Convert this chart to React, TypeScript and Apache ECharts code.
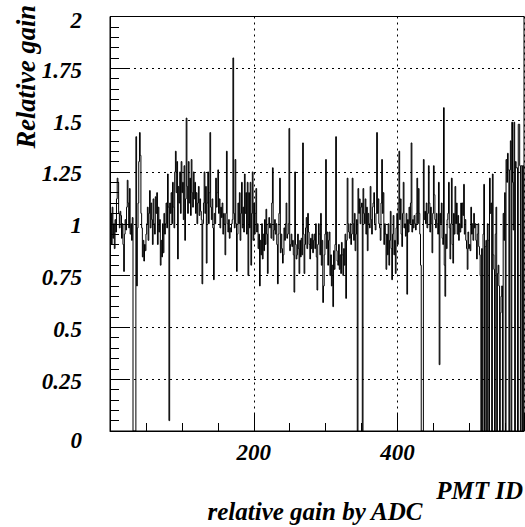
import React, { useEffect, useRef } from "react";
import * as echarts from "echarts";

// Relative gain per PMT ID (bins 0..575)
const gainA = [
  0.95, 1.05, 0.9, 1.08, 0.93, 1.0, 0.88, 1.02, 0.96, 1.12,
  1.22, 1.2, 1.05, 0.98, 1.06, 1.04, 0.93, 1.0, 0.9, 0.77,
  0.95, 1.02, 0.97, 1.08, 1.21, 1.1, 0.98, 1.17, 0.95, 1.0,
  0.92, 1.03, 0, 0, 0, 0, 1.42, 0.7, 0.98, 1.1,
  1.3, 1.44, 1.33, 1.05, 0.98, 0.84, 0.92, 0.82, 0.9, 0.87,
  0.95, 1.0, 1.08, 0.92, 1.05, 1.16, 0.98, 1.1, 1.02, 0.9,
  1.12, 1.0, 0.95, 1.13, 1.05, 1.15, 0.9, 1.08, 0.96, 1.02,
  0.8, 0.92, 0.84, 1.0, 0.86, 1.05, 0.95, 1.0, 1.1, 0.98,
  1.24, 1.08, 0.05, 1.1, 1.05, 1.15, 1.0, 1.2, 1.08, 0.98,
  1.25, 1.35, 1.15, 1.3, 0.83, 1.18,
];
const gainB = [
  1.1, 1.25, 1.05, 1.3, 1.15, 1.2, 1.02, 1.28, 0.92, 1.12,
  1.51, 1.18, 1.05, 1.3, 1.1, 1.22, 1.04, 1.31, 1.15, 1.08,
  1.25, 1.12, 1.2, 1.05, 1.15, 1.0, 1.1, 1.18, 1.04, 1.12,
  1.06, 1.02, 0.71, 1.0, 1.1, 1.25, 1.05, 1.18, 0.81, 1.1,
  1.25, 1.0, 1.15, 1.44, 1.08, 1.02, 1.12, 0.98, 0.73, 1.05,
  1.0, 1.22, 1.08, 1.15, 1.26, 1.05, 1.12, 0.98, 1.08, 1.03,
  1.1, 0.95, 1.05, 1.0, 0.85, 1.05, 1.35, 1.0, 0.96, 1.02,
  0.93, 0.98, 0.96, 1.0, 1.02, 1.8, 1.05, 0.98, 1.31, 1.0,
  0.77, 0.95, 1.1, 1.0, 1.15, 0.92, 1.05, 1.2, 0.98, 1.08,
  0.96, 1.24, 1.05, 1.15, 0.95, 1.2,
];
const gainC = [
  0.75, 1.15, 0.98, 1.2, 0.8, 1.05, 1.25, 0.92, 1.1, 0.95,
  1.05, 1.17, 0.96, 1.0, 0.88, 0.95, 0.7, 0.92, 0.85, 1.0,
  0.83, 0.95, 0.87, 1.02, 0.9, 1.07, 0.95, 0.76, 1.0, 1.03,
  0.98, 1.0, 0.93, 1.1, 1.27, 0.92, 0.97, 1.02, 0.95, 1.0,
  0.9, 0.71, 0.95, 1.05, 1.22, 0.86, 0.95, 0.88, 0.81, 0.85,
  0.98, 0.92, 1.0, 1.1, 0.93, 0.95, 1.0, 1.46, 0.87, 0.9,
  0.95, 0.89, 0.92, 0.85, 0.67, 1.25, 0.9, 0.83, 0.85, 0.95,
  0.88, 0.76, 0.92, 0.84, 0.93, 0.85, 1.39, 0.95, 0.76, 0.9,
  0.98, 1.03, 0.88, 1.05, 0.96, 0.9, 0.83, 0.93, 0.88, 0.95,
  0.86, 0.92, 0.95, 0.88, 1.0, 0.84,
];
const gainD = [
  0.68, 0.9, 1.0, 0.95, 0.85, 1.05, 0.8, 0.92, 0.62, 0.7,
  0.85, 0.95, 1.31, 0.88, 0.96, 0.8, 0.92, 0.96, 0.75, 0.85,
  0.7, 0.8, 0.6, 0.87, 0.78, 0.9, 1.42, 0.87, 0.82, 0.8,
  0.9, 0.78, 0.85, 0.76, 0.91, 0.85, 0.75, 0.88, 0.8, 0.95,
  0.64, 0.92, 1.22, 1.0, 0.96, 0.93, 1.0, 0.9, 0.95, 1.22,
  1.0, 0.92, 1.05, 0.87, 0.95, 1.02, 0, 1.17, 1.05, 1.12,
  1.0, 1.08, 1.1, 0, 1.17, 1.05, 1.0, 1.12, 0.95, 1.08,
  0.87, 1.05, 1.0, 0.98, 1.18, 1.02, 0.95, 1.08, 1.1, 1.15,
  1.0, 0.97, 1.05, 1.44, 1.05, 1.12, 1.0, 0.98, 0.92, 1.1,
  1.31, 1.05, 1.15, 0.9, 1.0, 0.95,
];
const gainE = [
  0.78, 0.95, 0.85, 1.0, 0.8, 0.92, 1.06, 0.88, 0.73, 0.95,
  1.04, 0.85, 0.92, 0.76, 0.98, 1.05, 0.9, 1.1, 1.35, 1.02,
  1.12, 0.95, 0.89, 1.05, 1.2, 0.98, 1.0, 0.94, 1.05, 0.66,
  1.02, 0.96, 1.08, 1.0, 1.1, 1.39, 0.96, 1.02, 0.98, 1.04,
  1.0, 0.97, 1.05, 1.22, 1.0, 1.17, 1.05, 0.95, 0.8, 0,
  0, 0, 1.31, 1.02, 1.06, 1.0, 1.1, 0.98, 1.05, 1.28,
  1.1, 0.96, 1.08, 1.0, 0.86, 1.05, 1.28, 1.14, 1.02, 0.98,
  1.05, 1.0, 0.95, 1.2, 0.32, 1.05, 1.0, 1.1, 0.93, 0.9,
  1.56, 0.8, 0.65, 0.95, 0.88, 1.02, 1.05, 1.2, 0.98, 0.83,
  1.0, 1.22, 0.9, 0.81, 1.05, 0.95,
];
const gainF = [
  1.18, 1.0, 1.1, 0.95, 1.04, 0.92, 1.0, 0.96, 1.1, 0.98,
  1.1, 1.04, 1.19, 0.95, 1.02, 0.92, 0.88, 0.78, 0.96, 0.88,
  0.9, 0.87, 1.08, 0.95, 1.0, 0.92, 1.05, 0.98, 1.0, 0.92,
  0.83, 0.95, 1.0, 0.89, 0.85, 0.75, 0, 0.88, 0, 0.95,
  1.19, 0, 0.89, 0.92, 0, 1.0, 0.92, 0, 1.22, 1.05,
  1.1, 0, 1.24, 0.85, 0.78, 0, 0.95, 1.08, 0, 0.76,
  0.8, 0.7, 0, 0.57, 0.65, 0.7, 0, 1.05, 0.92, 1.15,
  0, 1.31, 1.2, 1.34, 1.26, 0, 1.26, 1.4, 0, 1.49,
  1.2, 0.97, 1.49, 0, 1.3, 1.27, 1.27, 0, 1.48, 1.48,
  1.28, 0, 1.28, 1.28, 0, 1.28,
];

const xMax = 576;
const xLabelValues = [200, 400];
const yMin = 0;
const yMax = 2;
const yStep = 0.25;

const xTitle = "PMT ID";
const yTitle = "Relative gain";
const mainTitle = "relative gain by ADC";

export default function App() {
  const ref = useRef<HTMLDivElement>(null);
  useEffect(() => {
    if (!ref.current) return;
    const chart = echarts.init(ref.current, null, { renderer: "svg" });
    const gains = [...gainA, ...gainB, ...gainC, ...gainD, ...gainE, ...gainF];
    const data: number[][] = gains.map((v, i) => [i, v]);
    data.push([gains.length, gains[gains.length - 1]]);
    const fontFamily = "Liberation Serif";
    const labelFont = {
      fontFamily,
      fontWeight: "bold" as const,
      fontStyle: "italic" as const,
      fontSize: 23,
      color: "#000",
    };
    const dotted = { color: "#000", width: 1, type: [2, 4] as number[] };
    const titleStyle = {
      fontFamily,
      fontWeight: "bold",
      fontStyle: "italic",
      fill: "#000",
    };
    chart.setOption({
      animation: false,
      backgroundColor: "#fff",
      grid: {
        left: 110,
        right: 1,
        top: 16.5,
        bottom: 96,
        show: true,
        borderColor: "#000",
        borderWidth: 1,
        containLabel: false,
      },
      xAxis: [
        {
          type: "value",
          min: 0,
          max: xMax,
          interval: 50,
          position: "bottom",
          axisLine: { show: true, lineStyle: { color: "#000", width: 1 } },
          axisTick: { show: true, inside: true, length: 8, lineStyle: { color: "#000" } },
          axisLabel: {
            ...labelFont,
            margin: 10,
            showMaxLabel: false,
            formatter: (v: number) => (xLabelValues.includes(v) ? String(v) : ""),
          },
          splitLine: { show: false },
        },
        {
          type: "value",
          min: 0,
          max: xMax,
          interval: 200,
          position: "bottom",
          axisLine: { show: false },
          axisTick: { show: true, inside: true, length: 18, lineStyle: { color: "#000" } },
          axisLabel: { show: false },
          splitLine: { show: true, lineStyle: dotted },
        },
      ],
      yAxis: {
        type: "value",
        min: yMin,
        max: yMax,
        interval: yStep,
        axisLine: { show: true, lineStyle: { color: "#000", width: 1 } },
        axisTick: { show: true, inside: true, length: 20, lineStyle: { color: "#000" } },
        minorTick: { show: true, splitNumber: 5, length: 9, lineStyle: { color: "#000" } },
        axisLabel: {
          ...labelFont,
          margin: 28,
          formatter: (v: number) => (v === 0 ? "{z|0}" : v === 2 ? "{t|2}" : `{a|${v}}`),
          rich: {
            a: { ...labelFont, padding: [4, 0, 0, 0] },
            z: { ...labelFont, padding: [18, 0, 0, 0] },
            t: { ...labelFont, padding: [7, 0, 0, 0] },
          },
        },
        splitLine: { show: true, lineStyle: dotted },
      },
      series: [
        {
          type: "line",
          step: "end",
          xAxisIndex: 0,
          data,
          symbol: "none",
          lineStyle: { color: "#000", width: 1 },
          clip: true,
        },
      ],
      graphic: [
        {
          type: "text",
          x: 523,
          y: 490,
          style: { ...titleStyle, fontSize: 25, text: xTitle, align: "right", verticalAlign: "middle" },
        },
        {
          type: "text",
          x: 315,
          y: 511,
          style: { ...titleStyle, fontSize: 25, text: mainTitle, align: "center", verticalAlign: "middle" },
        },
        {
          type: "text",
          x: 26,
          y: 5,
          rotation: Math.PI / 2,
          style: { ...titleStyle, fontSize: 26.5, text: yTitle, align: "right", verticalAlign: "middle" },
        },
      ],
    });
    return () => chart.dispose();
  }, []);
  return (
    <div
      ref={ref}
      style={{ position: "absolute", left: 0, top: 0, width: 525, height: 527, background: "#fff" }}
    />
  );
}
